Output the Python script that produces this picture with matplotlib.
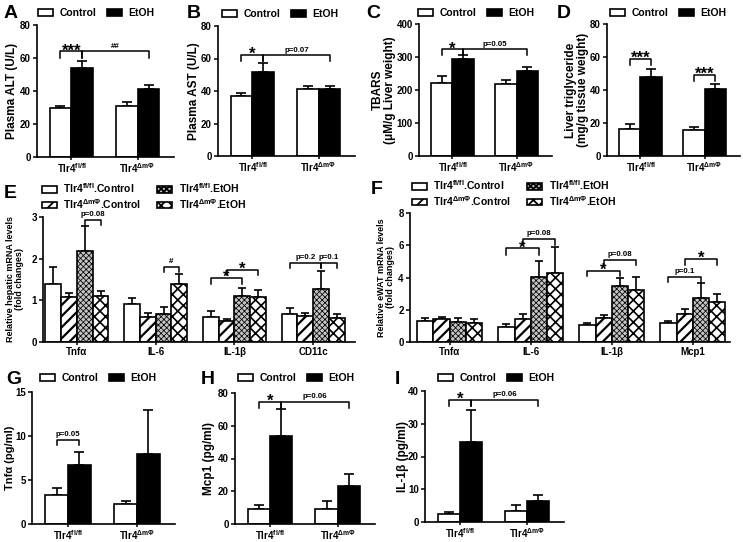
import matplotlib.pyplot as plt
from matplotlib.patches import Patch
import numpy as np

plt.rcParams['font.family'] = 'Liberation Sans'
plt.rcParams['font.weight'] = 'bold'
plt.rcParams['axes.labelweight'] = 'bold'
plt.rcParams['mathtext.fontset'] = 'custom'
plt.rcParams['mathtext.rm'] = 'Liberation Sans:bold'
plt.rcParams['mathtext.it'] = 'Liberation Sans:bold:italic'
plt.rcParams['mathtext.bf'] = 'Liberation Sans:bold'
plt.rcParams['hatch.linewidth'] = 1.3

W, H = 743, 542
fig = plt.figure(figsize=(W / 100, H / 100), dpi=100)

FL = r'Tlr4$^{\mathrm{fl/fl}}$'
DM = r'Tlr4$^{\mathrm{\Delta m\Phi}}$'
genotypes = [FL, DM]

# two-group panels: [fl/fl, dmPhi]
alt_ctrl, alt_ctrl_err = [29.5, 31.0], [1.5, 2.5]
alt_etoh, alt_etoh_err = [54.0, 41.5], [4.0, 2.0]
ast_ctrl, ast_ctrl_err = [37.0, 41.0], [2.0, 2.0]
ast_etoh, ast_etoh_err = [52.0, 41.0], [5.0, 2.0]
tbars_ctrl, tbars_ctrl_err = [220, 217], [22, 13]
tbars_etoh, tbars_etoh_err = [293, 258], [12, 12]
tg_ctrl, tg_ctrl_err = [16.5, 16.0], [3.0, 1.5]
tg_etoh, tg_etoh_err = [48.0, 40.5], [5.0, 3.0]
tnf_ctrl, tnf_ctrl_err = [3.3, 2.3], [0.8, 0.3]
tnf_etoh, tnf_etoh_err = [6.7, 8.0], [1.5, 5.0]
mcp_ctrl, mcp_ctrl_err = [9.0, 9.0], [2.5, 5.0]
mcp_etoh, mcp_etoh_err = [54.0, 23.5], [16.0, 7.0]
il1_ctrl, il1_ctrl_err = [2.5, 3.5], [0.5, 1.8]
il1_etoh, il1_etoh_err = [24.3, 6.3], [10.0, 1.8]

# four-group panels: rows = fl.Control, dm.Control, fl.EtOH, dm.EtOH
liver_genes = ['Tnfα', 'IL-6', 'IL-1β', 'CD11c']
liver_mean = [[1.40, 0.92, 0.60, 0.67],
              [1.07, 0.60, 0.50, 0.62],
              [2.18, 0.68, 1.10, 1.27],
              [1.10, 1.40, 1.07, 0.58]]
liver_err = [[0.40, 0.13, 0.14, 0.15],
             [0.10, 0.10, 0.06, 0.07],
             [0.60, 0.15, 0.20, 0.43],
             [0.13, 0.23, 0.18, 0.10]]
ewat_genes = ['Tnfα', 'IL-6', 'IL-1β', 'Mcp1']
ewat_mean = [[1.30, 0.90, 1.05, 1.15],
             [1.45, 1.45, 1.50, 1.75],
             [1.25, 4.05, 3.45, 2.75],
             [1.20, 4.30, 3.25, 2.50]]
ewat_err = [[0.20, 0.20, 0.10, 0.15],
            [0.10, 0.30, 0.20, 0.30],
            [0.25, 1.00, 0.55, 0.90],
            [0.25, 1.60, 0.80, 0.50]]
group_names = [FL + '.Control', DM + '.Control', FL + '.EtOH', DM + '.EtOH']

LW = 1.2


def make_ax(l, t, r, b):
    ax = fig.add_axes([l / W, 1 - b / H, (r - l) / W, (b - t) / H])
    ax._box = (l, t, r, b)
    for s in ['top', 'right']:
        ax.spines[s].set_visible(False)
    for s in ['left', 'bottom']:
        ax.spines[s].set_linewidth(LW)
    ax.tick_params(direction='out', length=3, width=1.1, pad=1.5)
    ax.tick_params(axis='x', length=2.5, pad=0.8)
    return ax


def place_ylabel(ax, text, xpx, fs):
    l, t, r, b = ax._box
    ax.set_ylabel(text, fontsize=fs, va='center', ha='center', linespacing=1.1)
    ax.yaxis.set_label_coords((xpx - l) / (r - l), 0.5)


def letter(x, y, txt):
    fig.text(x / W, 1 - y / H, txt, fontsize=14, fontweight='bold', va='center', ha='left')


def bracket(ax, x1, x2, y, leg, text, star=False):
    ax.plot([x1, x1, x2, x2], [y - leg, y, y, y - leg], color='k', lw=1.1, clip_on=False)
    if star:
        ax.annotate(text, xy=((x1 + x2) / 2, y), xytext=(0, -2.8), textcoords='offset points',
                    ha='center', va='baseline', fontsize=12, fontweight='bold')
    else:
        ax.annotate(text, xy=((x1 + x2) / 2, y), xytext=(0, 1), textcoords='offset points',
                    ha='center', va='bottom', fontsize=5.7, fontweight='bold')


def two_legend(ax, x, y):
    handles = [Patch(facecolor='white', edgecolor='k', lw=LW), Patch(facecolor='k', edgecolor='k', lw=LW)]
    ax.legend(handles, ['Control', 'EtOH'], loc='center left', bbox_to_anchor=(x / W, 1 - y / H),
              bbox_transform=fig.transFigure, ncol=2, frameon=False, fontsize=7.5,
              handlelength=1.45, handleheight=0.6, handletextpad=0.6, columnspacing=1.0,
              borderpad=0, borderaxespad=0)


def two_group(box, ctrl, ctrl_err, etoh, etoh_err, ylim, step, ylabel, ylab_x, ylab_fs=8.5):
    ax = make_ax(*box)
    x = np.arange(len(genotypes))
    w = 0.33
    ax.bar(x - w / 2, ctrl, w, color='white', edgecolor='k', lw=LW, zorder=2)
    ax.bar(x + w / 2, etoh, w, color='k', edgecolor='k', lw=LW, zorder=2)
    ax.errorbar(x - w / 2, ctrl, yerr=[np.zeros(len(x)), ctrl_err], fmt='none', ecolor='k',
                elinewidth=LW, capsize=3.5, capthick=LW, zorder=1)
    ax.errorbar(x + w / 2, etoh, yerr=[np.zeros(len(x)), etoh_err], fmt='none', ecolor='k',
                elinewidth=LW, capsize=3.5, capthick=LW, zorder=1)
    ax.set_xlim(-0.52, 1.55)
    ax.set_ylim(*ylim)
    ax.set_yticks(np.arange(ylim[0], ylim[1] + step / 2, step))
    ax.set_xticks(x)
    ax.set_xticklabels(genotypes)
    ax.tick_params(labelsize=7)
    place_ylabel(ax, ylabel, ylab_x, ylab_fs)
    return ax


bar_styles = [dict(facecolor='white'),
              dict(facecolor='white', hatch='///'),
              dict(facecolor='#c4c4c4', hatch='xxxxxx'),
              dict(facecolor='white', hatch='xxx')]
hatch_lw = [1.3, 1.6, 0.55, 1.2]


def set_hlw(patch, lw):
    if hasattr(patch, 'set_hatch_linewidth'):
        patch.set_hatch_linewidth(lw)


def four_group(box, genes, mean, err, ylim, step, ylabel, ylab_x):
    ax = make_ax(*box)
    x = np.arange(len(genes))
    w = 0.2
    for i in range(4):
        xi = x + (i - 1.5) * w
        bars = ax.bar(xi, mean[i], w, edgecolor='k', lw=LW, zorder=2, **bar_styles[i])
        for b in bars:
            set_hlw(b, hatch_lw[i])
        ax.errorbar(xi, mean[i], yerr=[np.zeros(len(x)), err[i]], fmt='none', ecolor='k',
                    elinewidth=LW, capsize=3, capthick=LW, zorder=1)
    ax.set_ylim(*ylim)
    ax.set_yticks(np.arange(ylim[0], ylim[1] + step / 2, step))
    ax.set_xticks(x)
    ax.set_xticklabels(genes)
    ax.tick_params(labelsize=7)
    place_ylabel(ax, ylabel, ylab_x, 6.5)
    handles = []
    for s, hl in zip(bar_styles, hatch_lw):
        p = Patch(edgecolor='k', lw=LW, **s)
        set_hlw(p, hl)
        handles.append(p)
    return ax, handles


def four_legend(ax, handles, x, y):
    ax.legend(handles, group_names, loc='center left', bbox_to_anchor=(x / W, 1 - y / H),
              bbox_transform=fig.transFigure, ncol=2, frameon=False, fontsize=7.5,
              handlelength=1.45, handleheight=0.6, handletextpad=0.6, columnspacing=1.5,
              labelspacing=0.15, borderpad=0, borderaxespad=0)


o = 0.165

# A
ax = two_group((37, 25, 174, 157), alt_ctrl, alt_ctrl_err, alt_etoh, alt_etoh_err, (0, 80), 20,
               'Plasma ALT (U/L)', 12)
bracket(ax, -o, o, 64, 4, '***', star=True)
bracket(ax, o, 1 + o, 64, 4, '##')
two_legend(ax, 38, 13)
letter(4, 13, 'A')

# B
ax = two_group((218, 26, 355, 156), ast_ctrl, ast_ctrl_err, ast_etoh, ast_etoh_err, (0, 80), 20,
               'Plasma AST (U/L)', 194)
bracket(ax, -o, o, 62, 3.5, '*', star=True)
bracket(ax, o, 1 + o, 62, 3.5, 'p=0.07')
two_legend(ax, 222, 14)
letter(187, 13, 'B')

# C
ax = two_group((419, 24, 552, 156), tbars_ctrl, tbars_ctrl_err, tbars_etoh, tbars_etoh_err,
               (0, 400), 100, 'TBARS\n(μM/g Liver weight)', 384)
bracket(ax, -o, o, 323, 18, '*', star=True)
bracket(ax, o, 1 + o, 323, 18, 'p=0.05')
two_legend(ax, 418, 13)
letter(366, 13, 'C')

# D
ax = two_group((607, 24, 740, 156), tg_ctrl, tg_ctrl_err, tg_etoh, tg_etoh_err, (0, 80), 20,
               'Liver triglyceride\n(mg/g tissue weight)', 577)
bracket(ax, -o, o, 58.8, 3.8, '***', star=True)
bracket(ax, 1 - o, 1 + o, 49, 3.8, '***', star=True)
two_legend(ax, 610, 13)
letter(557, 13, 'D')

# E
ax, hs = four_group((43, 217, 355, 342), liver_genes, liver_mean, liver_err, (0, 3), 1,
                    'Relative hepatic mRNA levels\n(fold changes)', 15)
ax.set_xlim(-0.43, 3.53)
bracket(ax, 0.1, 0.3, 2.94, 0.14, 'p=0.08')
bracket(ax, 1.1, 1.3, 1.81, 0.13, '#')
bracket(ax, 1.7, 2.1, 1.53, 0.13, '*', star=True)
bracket(ax, 1.9, 2.3, 1.73, 0.13, '*', star=True)
bracket(ax, 2.7, 3.1, 1.9, 0.13, 'p=0.2')
bracket(ax, 3.1, 3.3, 1.9, 0.13, 'p=0.1')
four_legend(ax, hs, 42, 196)
letter(4, 193, 'E')

# F
ax, hs = four_group((410, 213, 730, 342), ewat_genes, ewat_mean, ewat_err, (0, 8), 2,
                    'Relative eWAT mRNA levels\n(fold changes)', 386)
ax.set_xlim(-0.49, 3.46)
bracket(ax, 0.7, 1.1, 5.8, 0.4, '*', star=True)
bracket(ax, 0.9, 1.3, 6.4, 0.4, 'p=0.08')
bracket(ax, 1.7, 2.1, 4.43, 0.35, '*', star=True)
bracket(ax, 1.9, 2.3, 5.1, 0.35, 'p=0.08')
bracket(ax, 2.7, 3.1, 4.06, 0.35, 'p=0.1')
bracket(ax, 2.9, 3.3, 5.15, 0.35, '*', star=True)
four_legend(ax, hs, 412, 193)
letter(371, 190, 'F')

# G
ax = two_group((32, 392, 175, 524), tnf_ctrl, tnf_ctrl_err, tnf_etoh, tnf_etoh_err, (0, 15), 5,
               'Tnfα (pg/ml)', 10, ylab_fs=8)
bracket(ax, -o, o, 9.6, 0.6, 'p=0.05')
two_legend(ax, 40, 378)
letter(6, 379, 'G')

# H
ax = two_group((235, 393, 375, 524), mcp_ctrl, mcp_ctrl_err, mcp_etoh, mcp_etoh_err, (0, 80), 20,
               'Mcp1 (pg/ml)', 209)
bracket(ax, -o, o, 74.8, 3.8, '*', star=True)
bracket(ax, o, 1 + o, 74.8, 3.8, 'p=0.06')
two_legend(ax, 238, 378)
letter(201, 379, 'H')

# I
ax = two_group((425, 391, 564, 522), il1_ctrl, il1_ctrl_err, il1_etoh, il1_etoh_err, (0, 40), 10,
               'IL-1β (pg/ml)', 403)
bracket(ax, -o, o, 37.3, 1.8, '*', star=True)
bracket(ax, o, 1 + o, 37.3, 1.8, 'p=0.06')
two_legend(ax, 438, 378)
letter(395, 379, 'I')

fig.savefig('out.png', dpi=100)
